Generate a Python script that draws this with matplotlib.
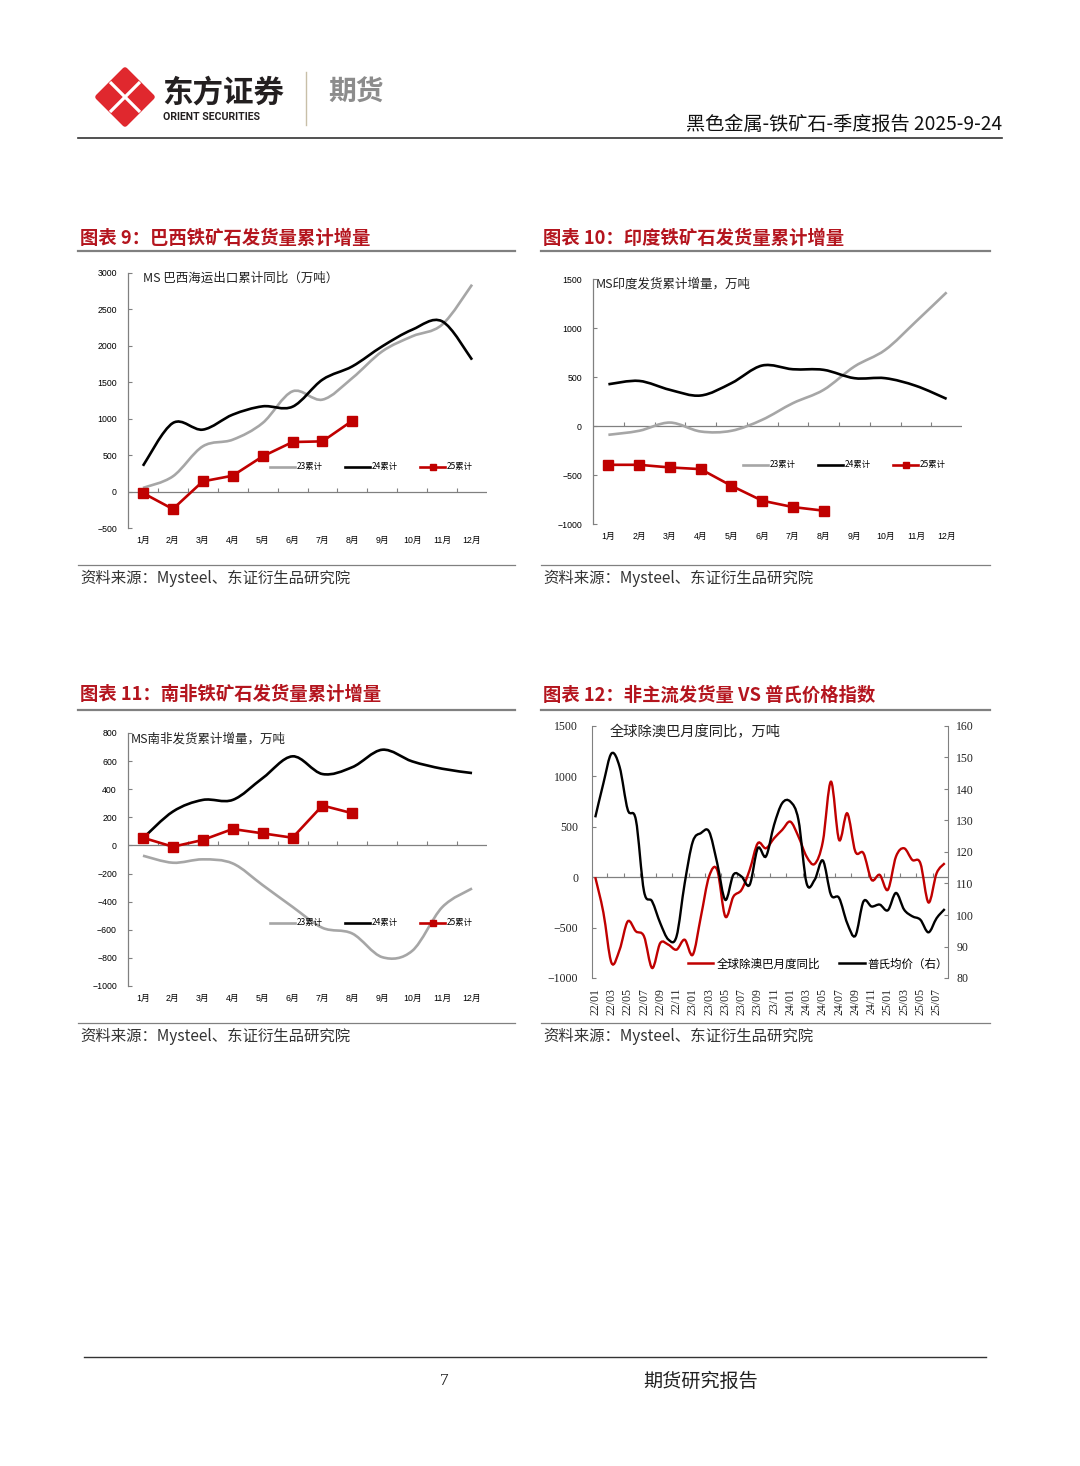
import numpy as np
import matplotlib.pyplot as plt
from matplotlib.path import Path
from matplotlib.patches import PathPatch, Polygon
from matplotlib.lines import Line2D

plt.rcParams['font.family'] = ['Noto Sans CJK SC', 'DejaVu Sans']

# ---- data ----
months = ['1月', '2月', '3月', '4月', '5月', '6月', '7月', '8月', '9月', '10月', '11月', '12月']

brazil_23 = [50, 209, 621, 712, 941, 1376, 1262, 1559, 1925, 2131, 2291, 2840]
brazil_24 = [353, 941, 850, 1056, 1170, 1165, 1536, 1719, 1994, 2222, 2337, 1810]
brazil_25 = [-20, -240, 140, 218, 483, 680, 689, 973]

india_23 = [-90, -49, 35, -56, -49, 63, 233, 369, 607, 776, 1065, 1364]
india_24 = [426, 460, 369, 311, 437, 617, 579, 573, 488, 488, 410, 277]
india_25 = [-396, -396, -423, -440, -610, -762, -827, -864]

safrica_23 = [-73, -123, -99, -128, -282, -437, -586, -627, -795, -750, -440, -306]
safrica_24 = [51, 241, 324, 324, 479, 634, 508, 557, 681, 598, 546, 515]
safrica_25 = [55, -9, 39, 117, 86, 55, 284, 229]

dates = ['%02d/%02d' % (22 + i // 12, i % 12 + 1) for i in range(44)]
ex_aubr_yoy = [0, -350, -850, -719, -438, -537, -587, -901, -653, -670, -719, -620,
               -769, -390, 7, 73, -390, -192, -125, 73, 337, 287, 386, 469,
               551, 403, 205, 132, 353, 948, 370, 634, 254, 238, -26, 23,
               -125, 205, 287, 172, 139, -251, 40, 139]
platts = [131, 141.8, 151.3, 147, 133.4, 130.2, 107.5, 104.3, 97.4, 92.2, 93.2, 110,
          123.3, 126, 126.5, 116.5, 104.8, 112.8, 112.2, 109.6, 121.2, 118.6, 128.6, 135.5,
          136, 130.2, 110.1, 111.2, 117.3, 106.4, 105.4, 97.4, 93.4, 104.3, 102.7, 103.3,
          101.5, 107, 101.7, 99.6, 98.5, 94.5, 99, 101.9]

RED = '#C00000'
GRAY = '#A6A6A6'
AXC = '#808080'
TITLE_RED = '#B4151E'

W, H = 1080, 1466
fig = plt.figure(figsize=(W / 100, H / 100), dpi=100)
page = fig.add_axes([0, 0, 1, 1])
page.set_xlim(0, W)
page.set_ylim(H, 0)
page.axis('off')


def box(l, t, r, b):
    return [l / W, 1 - b / H, (r - l) / W, (b - t) / H]


def smooth(xs, ys, t=1 / 6):
    # excel-like smoothed line as bezier path
    xs = list(xs)
    ys = list(ys)
    n = len(xs)
    verts = [(xs[0], ys[0])]
    codes = [Path.MOVETO]
    for i in range(n - 1):
        a = i - 1 if i > 0 else i
        d = i + 2 if i + 2 < n else i + 1
        c1 = (xs[i] + (xs[i + 1] - xs[a]) * t, ys[i] + (ys[i + 1] - ys[a]) * t)
        c2 = (xs[i + 1] - (xs[d] - xs[i]) * t, ys[i + 1] - (ys[d] - ys[i]) * t)
        verts += [c1, c2, (xs[i + 1], ys[i + 1])]
        codes += [Path.CURVE4] * 3
    return Path(verts, codes)


# ---- header ----
cx, cy, r = 125, 97, 27
page.add_patch(Polygon([(cx, cy - r), (cx + r, cy), (cx, cy + r), (cx - r, cy)],
                       closed=True, fc='#E0282E', ec='#E0282E', lw=4, joinstyle='round'))
page.plot([cx - 15, cx + 15], [cy - 15, cy + 15], color='white', lw=2.3, solid_capstyle='butt')
page.plot([cx - 15, cx + 15], [cy + 15, cy - 15], color='white', lw=2.3, solid_capstyle='butt')
page.text(162, 93, '东方证券', fontsize=22, fontweight='bold', color='#231F20', va='center', ha='left')
page.text(163, 117, 'ORIENT SECURITIES', fontsize=7.6, fontweight='bold', color='#231F20',
          va='center', ha='left', family=['Roboto', 'DejaVu Sans'])
page.plot([306, 306], [72, 125], color='#C8BFA8', lw=1)
page.text(328, 93, '期货', fontsize=20, fontweight='bold', color='#8C8C8C', va='center', ha='left')
page.text(1002, 124, '黑色金属-铁矿石-季度报告 2025-9-24', fontsize=13.8, color='#111111',
          va='center', ha='right')
page.plot([78, 1002], [138, 138], color='#333333', lw=1.2)

# ---- section frames ----
for (x0, x1, ty, uy, by, sy, title) in [
        (78, 515, 238, 251, 565, 578, '图表 9：巴西铁矿石发货量累计增量'),
        (541, 990, 238, 251, 565, 578, '图表 10：印度铁矿石发货量累计增量'),
        (78, 515, 695, 710, 1023, 1036, '图表 11：南非铁矿石发货量累计增量'),
        (541, 990, 695, 710, 1023, 1036, '图表 12：非主流发货量 VS 普氏价格指数')]:
    page.text(x0 + 2, ty, title, fontsize=13.2, fontweight='bold', color=TITLE_RED, va='center', ha='left')
    page.plot([x0, x1], [uy, uy], color=AXC, lw=1.6)
    page.plot([x0, x1], [by, by], color=AXC, lw=0.9)
    page.text(x0 + 2, sy, '资料来源：Mysteel、东证衍生品研究院', fontsize=11.1, color='#333333',
              va='center', ha='left')

# ---- footer ----
page.plot([84, 986], [1357, 1357], color='#333333', lw=1)
page.text(444, 1381, '7', fontsize=12.5, color='#222222', va='center', ha='center',
          family=['Liberation Serif', 'DejaVu Serif'])
page.text(701, 1381, '期货研究报告', fontsize=13.8, color='#222222', va='center', ha='center')


def month_chart(rect, y23, y24, y25, ylim, ystep, note, note_xy, leg_xy):
    ax = fig.add_axes(box(*rect))
    ax.patch.set_alpha(0)
    x = np.arange(1, 13)
    ax.axhline(0, color=AXC, lw=0.9, zorder=1)
    tick_len = (ylim[1] - ylim[0]) / (rect[3] - rect[1]) * 4
    ax.vlines(np.arange(1.5, 12.5, 1), 0, tick_len, color=AXC, lw=0.8)
    ax.add_patch(PathPatch(smooth(x, y23), fill=False, ec=GRAY, lw=1.9, zorder=2))
    ax.add_patch(PathPatch(smooth(x, y24), fill=False, ec='black', lw=1.9, zorder=3))
    ax.plot(x[:len(y25)], y25, color=RED, lw=1.9, marker='s', ms=6.5, zorder=4)
    ax.set_xlim(0.5, 12.5)
    ax.set_ylim(ylim)
    ax.set_xticks(x)
    ax.set_xticklabels(months)
    ax.set_yticks(np.arange(ylim[0], ylim[1] + 1, ystep))
    for s in ['top', 'right', 'bottom']:
        ax.spines[s].set_visible(False)
    ax.spines['left'].set_color(AXC)
    ax.spines['left'].set_linewidth(0.9)
    ax.tick_params(axis='x', length=0, pad=6, labelsize=6.3)
    ax.tick_params(axis='y', direction='in', length=3, color=AXC, pad=8, labelsize=6.3)
    for lab in ax.get_xticklabels() + ax.get_yticklabels():
        lab.set_family(['Liberation Sans', 'Noto Sans CJK SC'])
    page.text(note_xy[0], note_xy[1], note, fontsize=9, color='#222222', va='center', ha='left')
    handles = [Line2D([], [], color=GRAY, lw=1.9),
               Line2D([], [], color='black', lw=1.9),
               Line2D([], [], color=RED, lw=1.9, marker='s', ms=4)]
    ax.legend(handles, ['23累计', '24累计', '25累计'], loc='center left',
              bbox_to_anchor=leg_xy, bbox_transform=page.transData, ncol=3, frameon=False,
              fontsize=6, handlelength=3, handletextpad=0.2, columnspacing=2.7,
              borderpad=0, borderaxespad=0)
    return ax


month_chart((128, 273, 487, 528), brazil_23, brazil_24, brazil_25, (-500, 3000), 500,
            'MS 巴西海运出口累计同比（万吨）', (143, 278), (270, 467))
month_chart((593, 279, 962, 524), india_23, india_24, india_25, (-1000, 1500), 500,
            'MS印度发货累计增量，万吨', (596, 284), (743, 465))
month_chart((128, 733, 487, 986), safrica_23, safrica_24, safrica_25, (-1000, 800), 200,
            'MS南非发货累计增量，万吨', (131, 739), (270, 923))

# ---- chart 12 ----
ax = fig.add_axes(box(592, 726, 948, 978))
ax.patch.set_alpha(0)
m = np.arange(len(dates))
ax.set_xlim(-0.4, 43.4)
ax.set_ylim(-1000, 1500)
ax.axhline(0, color=AXC, lw=0.9, zorder=1)
ax.vlines(np.arange(1.5, 43, 2), 0, 40, color=AXC, lw=0.8)
ax.add_patch(PathPatch(smooth(m, ex_aubr_yoy), fill=False, ec=RED, lw=1.7, zorder=3))
ax.set_xticks(m[::2])
ax.set_xticklabels(dates[::2], rotation=90)
ax.set_yticks(np.arange(-1000, 1501, 500))
for s in ['top', 'bottom']:
    ax.spines[s].set_visible(False)
ax.spines['left'].set_color(AXC)
ax.spines['right'].set_visible(False)
ax.tick_params(axis='x', length=0, pad=7, labelsize=8.5)
ax.tick_params(axis='y', direction='in', length=3, color=AXC, pad=10, labelsize=8.5)

ax2 = ax.twinx()
ax2.set_ylim(80, 160)
ax2.set_yticks(np.arange(80, 161, 10))
ax2.add_patch(PathPatch(smooth(m, platts), fill=False, ec='black', lw=1.7, zorder=2))
for s in ['top', 'bottom', 'left']:
    ax2.spines[s].set_visible(False)
ax2.spines['right'].set_color(AXC)
ax2.tick_params(axis='y', direction='in', length=3, color=AXC, pad=6, labelsize=8.5)

for lab in ax.get_xticklabels() + ax.get_yticklabels() + ax2.get_yticklabels():
    lab.set_family(['Liberation Serif', 'DejaVu Serif'])
    lab.set_color('#222222')

page.text(610, 732, '全球除澳巴月度同比，万吨', fontsize=10.3, color='#222222', va='center', ha='left')
handles = [Line2D([], [], color=RED, lw=1.8), Line2D([], [], color='black', lw=1.8)]
ax2.legend(handles, ['全球除澳巴月度同比', '普氏均价（右）'], loc='center left',
           bbox_to_anchor=(688, 964), bbox_transform=page.transData, ncol=2, frameon=False,
           fontsize=8.3, handlelength=2.2, handletextpad=0.25, columnspacing=1.7,
           borderpad=0, borderaxespad=0)

plt.savefig('out.png', dpi=100)
